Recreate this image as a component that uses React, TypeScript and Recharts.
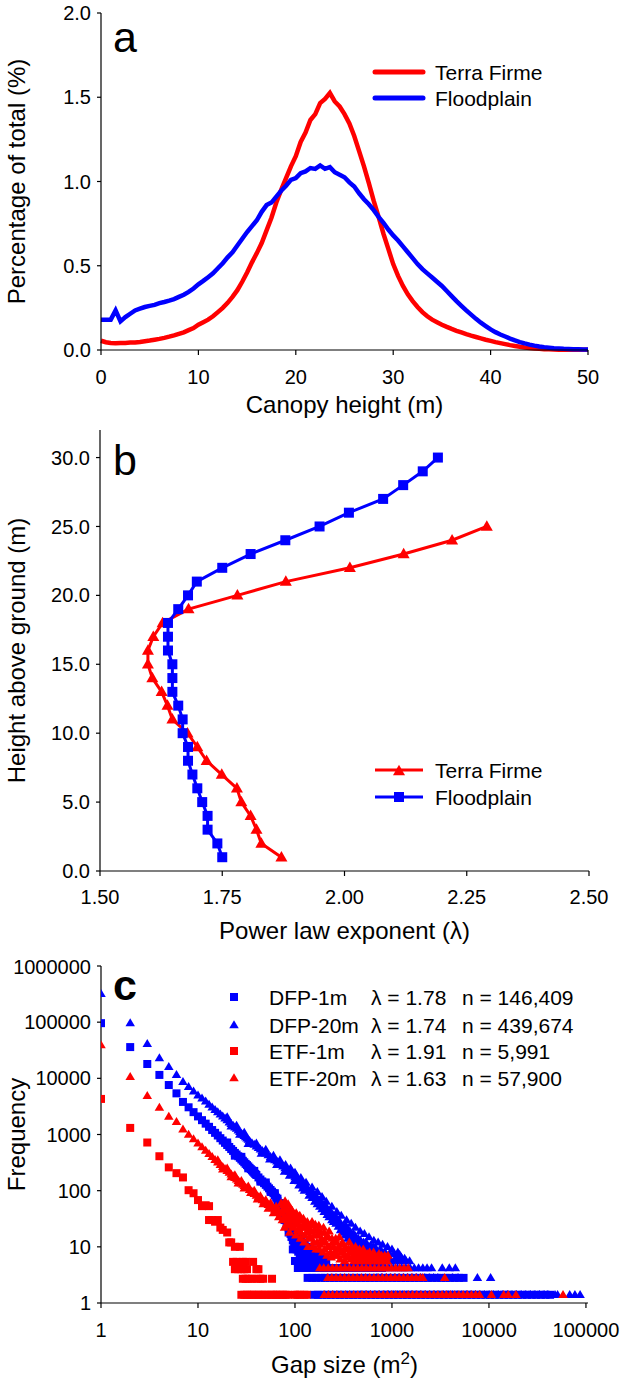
import React from 'react';
import { LineChart, Line, ScatterChart, Scatter, XAxis, YAxis, Label } from 'recharts';

const FONT = '"Liberation Sans", Arial, Helvetica, sans-serif';
const RED = '#FF0000';
const BLUE = '#0000FF';

// ---------------- Panel a data ----------------
const canopyHeight = [0, 0.5, 1, 1.5, 2, 2.5, 3, 3.5, 4, 4.5, 5, 5.5, 6, 6.5, 7, 7.5, 8, 8.5, 9, 9.5, 10, 10.5, 11, 11.5, 12, 12.5, 13, 13.5, 14, 14.5, 15, 15.5, 16, 16.5, 17, 17.5, 18, 18.5, 19, 19.5, 20, 20.5, 21, 21.5, 22, 22.5, 23, 23.5, 24, 24.5, 25, 25.5, 26, 26.5, 27, 27.5, 28, 28.5, 29, 29.5, 30, 30.5, 31, 31.5, 32, 32.5, 33, 33.5, 34, 34.5, 35, 35.5, 36, 36.5, 37, 37.5, 38, 38.5, 39, 39.5, 40, 40.5, 41, 41.5, 42, 42.5, 43, 43.5, 44, 44.5, 45, 45.5, 46, 46.5, 47, 47.5, 48, 48.5, 49, 49.5, 50];
const terraFirmePct = [0.055, 0.046, 0.041, 0.04, 0.041, 0.042, 0.044, 0.045, 0.048, 0.052, 0.056, 0.061, 0.066, 0.072, 0.079, 0.087, 0.096, 0.105, 0.118, 0.13, 0.15, 0.165, 0.18, 0.2, 0.225, 0.25, 0.28, 0.315, 0.355, 0.405, 0.46, 0.52, 0.575, 0.635, 0.71, 0.785, 0.875, 0.95, 1.02, 1.09, 1.15, 1.235, 1.29, 1.365, 1.4, 1.465, 1.49, 1.525, 1.475, 1.445, 1.4, 1.345, 1.27, 1.18, 1.09, 0.99, 0.885, 0.79, 0.69, 0.6, 0.51, 0.44, 0.38, 0.33, 0.29, 0.255, 0.225, 0.2, 0.18, 0.165, 0.15, 0.137, 0.125, 0.114, 0.104, 0.094, 0.085, 0.077, 0.069, 0.061, 0.054, 0.047, 0.041, 0.035, 0.029, 0.024, 0.019, 0.015, 0.012, 0.009, 0.007, 0.005, 0.004, 0.003, 0.002, 0.002, 0.002, 0.001, 0.001, 0.001, 0.001];
const floodplainPct = [0.18, 0.18, 0.18, 0.235, 0.17, 0.195, 0.215, 0.235, 0.245, 0.255, 0.262, 0.268, 0.278, 0.285, 0.293, 0.302, 0.315, 0.328, 0.345, 0.365, 0.39, 0.41, 0.432, 0.455, 0.485, 0.515, 0.55, 0.58, 0.62, 0.66, 0.7, 0.735, 0.77, 0.82, 0.86, 0.875, 0.91, 0.945, 0.975, 1.01, 1.02, 1.05, 1.06, 1.08, 1.075, 1.095, 1.075, 1.085, 1.055, 1.04, 1.025, 0.995, 0.97, 0.93, 0.895, 0.865, 0.83, 0.79, 0.755, 0.715, 0.68, 0.65, 0.615, 0.58, 0.545, 0.51, 0.48, 0.455, 0.43, 0.405, 0.38, 0.35, 0.32, 0.29, 0.262, 0.235, 0.21, 0.185, 0.162, 0.142, 0.122, 0.106, 0.092, 0.08, 0.068, 0.057, 0.047, 0.039, 0.032, 0.026, 0.021, 0.017, 0.014, 0.011, 0.009, 0.007, 0.006, 0.005, 0.004, 0.003, 0.003];
const aXTicks = [0, 10, 20, 30, 40, 50];
const aYTicks = [0, 0.5, 1, 1.5, 2];

// ---------------- Panel b data ----------------
const tfHeights = [1, 2, 3, 4, 5, 6, 7, 8, 9, 10, 11, 12, 13, 14, 15, 16, 17, 18, 19, 20, 21, 22, 23, 24, 25];
const tfLambda = [1.871, 1.83, 1.82, 1.808, 1.789, 1.78, 1.749, 1.718, 1.699, 1.679, 1.648, 1.638, 1.626, 1.607, 1.598, 1.598, 1.609, 1.628, 1.681, 1.781, 1.88, 2.011, 2.121, 2.22, 2.291];
const fpHeights = [1, 2, 3, 4, 5, 6, 7, 8, 9, 10, 11, 12, 13, 14, 15, 16, 17, 18, 19, 20, 21, 22, 23, 24, 25, 26, 27, 28, 29, 30];
const fpLambda = [1.75, 1.74, 1.72, 1.72, 1.709, 1.699, 1.689, 1.68, 1.68, 1.669, 1.669, 1.66, 1.648, 1.648, 1.648, 1.639, 1.639, 1.639, 1.66, 1.68, 1.698, 1.75, 1.808, 1.879, 1.949, 2.009, 2.079, 2.12, 2.16, 2.191];
const bXTicks = [1.5, 1.75, 2, 2.25, 2.5];
const bYTicks = [0, 5, 10, 15, 20, 25, 30];

// ---------------- Panel c data ----------------
const rowFreq = [1.4, 2.8, 4.2, 5.6];

const dfp1mBand = [[1, 96000], [2, 36000], [3, 18000], [4, 11500], [5, 7600], [6, 5400], [7, 3800], [8, 3050], [9, 2500], [10, 2100], [11, 1800], [12, 1560], [13, 1370], [14, 1200], [15, 1070], [16, 960], [17, 860], [18, 780], [19, 710], [20, 650], [21, 600], [22, 550], [23, 510], [24, 470], [25, 440], [26, 410], [27, 385], [28, 360], [29, 340], [30, 320], [31, 300], [32, 285], [33, 270], [34, 255], [35, 242], [36, 230], [37, 218], [38, 208], [39, 198], [40, 190], [42, 172], [44, 158], [46, 146], [48, 136], [50, 127], [52, 118], [54, 110], [56, 103], [58, 96], [60, 90], [62, 82], [64, 75], [66, 66], [68, 60], [70, 54], [72, 48], [74, 42], [76, 38], [78, 34], [80, 30], [82, 27], [84, 24], [86, 22], [88, 19], [90, 17], [92, 15], [95, 13], [98, 11], [101, 10], [104, 9], [108, 8.2], [112, 7.5], [116, 7], [121, 6.4],
  [20, 720], [24, 420], [28, 400], [33, 250], [38, 225], [44, 145], [50, 140], [56, 95], [62, 90], [66, 72], [70, 60], [74, 48], [78, 30], [82, 34], [86, 18], [88, 26], [92, 20], [95, 9], [98, 16], [102, 13], [105, 18], [110, 11], [115, 14], [120, 9], [126, 12], [132, 8], [138, 10], [145, 7.5], [152, 9], [160, 6.5], [170, 7.5], [185, 6.2]];
const dfp1mRow4 = [100, 113, 124, 139, 152, 171, 188, 210];
const dfp1mRow3 = [107, 118, 133, 146, 164, 180, 203, 223, 250, 276, 309, 341, 381, 422, 471, 520, 582, 643, 716, 790];
const dfp1mRow2 = [135, 151, 165, 186, 204, 229, 253, 283, 313, 350, 387, 432, 478, 534, 591, 659, 731, 815, 903, 1006, 1116, 1244, 1378, 1536, 1703, 1899, 2105, 2346, 2601, 2899, 3214, 3580, 3970, 4425, 4905, 5470];
const dfp1mRow1 = [157, 172, 190, 212, 233, 262, 290, 322, 360, 398, 440, 492, 545, 610, 676, 752, 840, 930, 1040, 1150, 1290, 1430, 1600, 1780, 1990, 2210, 2480, 2750, 3080, 3420, 3830, 4250, 4760, 5300, 5920, 6600, 7380, 8230, 9200, 10250, 11450, 12800, 14300, 15900, 17800, 19800, 22100, 24700, 27600, 30800, 34300, 38300, 42700];

const dfp20mBand = [[1, 320000], [2, 96000], [3, 41000], [4, 23000], [5, 16000], [6, 11500], [7, 8700], [8, 7100], [9, 5900], [10, 5000], [11, 4400], [12, 3900], [13, 3400], [14, 3050], [15, 2750], [16, 2500], [17, 2300], [18, 2100], [19, 1950], [20, 1800], [21, 1650], [22, 1550], [23, 1450], [24, 1350], [25, 1270], [26, 1190], [27, 1120], [28, 1055], [29, 995], [30, 945], [31, 900], [32, 855], [33, 810], [34, 770], [36, 705], [38, 660], [40, 615], [42, 578], [44, 545], [46, 515], [48, 487], [50, 462], [53, 430], [56, 400], [59, 375], [62, 352], [65, 332], [68, 314], [71, 298], [75, 272], [79, 252], [83, 234], [87, 218], [91, 204], [95, 190], [100, 175], [105, 160], [110, 148], [116, 135], [122, 124], [128, 114], [135, 104], [142, 95], [150, 87], [158, 80], [167, 74], [176, 67], [186, 60], [196, 54], [207, 48], [219, 43], [231, 39], [244, 35], [258, 31], [273, 28], [289, 25], [306, 22.5], [324, 20.5], [343, 19], [363, 17.5], [385, 16], [408, 14.5], [432, 13.5], [458, 12.5], [485, 11.5], [514, 10.8], [545, 10], [578, 9.5], [613, 9], [650, 8.5], [690, 8], [732, 7.5], [777, 7], [825, 6.8], [875, 6.4], [930, 6], [990, 5.6],
  [20, 2050], [25, 1450], [30, 1080], [40, 700], [50, 540], [60, 420], [70, 350], [80, 290], [90, 250], [100, 210], [115, 170], [130, 140], [150, 115], [170, 95], [190, 78], [210, 64], [240, 52], [270, 42], [300, 36], [340, 30], [380, 26], [420, 22], [470, 19], [520, 17], [580, 15], [650, 13], [720, 12], [800, 11], [900, 10], [1000, 9], [1050, 7.5], [1150, 8], [1250, 6.5],
  [22, 1400], [27, 1000], [33, 680], [45, 460], [55, 360], [65, 290], [78, 220], [88, 185], [98, 150], [110, 125], [125, 100], [140, 82], [160, 64], [180, 52], [200, 42], [225, 34], [250, 28], [280, 23], [310, 18], [350, 14], [390, 12], [440, 10], [500, 8.5], [560, 7.5], [620, 6.5], [700, 6], [780, 5.8],
  [105, 175], [118, 140], [132, 118], [145, 100], [155, 90], [165, 80], [180, 68], [195, 58], [205, 55], [215, 48], [230, 44], [245, 38], [260, 34], [275, 31], [290, 28], [320, 23], [335, 24], [355, 20], [370, 19], [400, 17], [415, 16], [450, 14], [475, 13], [510, 12], [540, 12], [600, 10.5], [640, 10], [680, 9.5], [760, 9], [850, 8], [950, 7.5], [1100, 6.5], [1200, 7.2], [1350, 6.2],
  [120, 110], [150, 75], [170, 58], [190, 47], [215, 37], [240, 30], [265, 26], [295, 20], [330, 16], [370, 13], [410, 11], [460, 9], [520, 8], [590, 7], [660, 6.6], [740, 6.2], [820, 6]];
const dfp20mRow4 = [800, 880, 960, 1060, 1160, 1280, 1400, 1520];
const dfp20mRow3 = [560, 620, 690, 760, 840, 930, 1030, 1140, 1260, 1390, 1540, 1700, 1880, 2080, 2300, 2560, 3300, 3900, 4500];
const dfp20mRow2 = [700, 780, 870, 960, 1070, 1180, 1310, 1450, 1610, 1780, 1970, 2180, 2420, 2680, 2970, 4200, 4800, 7600, 10400];
const dfp20mRow1 = [480, 540, 600, 670, 745, 830, 925, 1030, 1150, 1280, 1430, 1590, 1770, 1980, 2200, 2460, 2740, 3050, 3400, 3790, 4230, 4710, 5250, 5850, 6520, 7270, 8100, 9030, 10050, 11200, 12500, 13900, 15500, 17300, 19300, 21500, 24000, 26700, 29800, 33200, 37000, 40500, 48000, 51000, 68000, 77000, 87000];

const etf1mPts = [[1, 4300], [2, 1310], [3, 720], [4, 410], [5, 260], [6, 205], [7, 172], [8, 102], [9, 90], [10, 68], [11, 53], [12, 55], [13, 53], [13, 30], [14, 30], [15, 28], [16, 30], [17, 22], [18, 20], [20, 18], [21, 12], [22, 12], [24, 10], [27, 10], [23, 5.4], [25, 5.4], [29, 5.4], [31, 5.4], [37, 5.4], [24, 4], [26, 4], [28, 4], [30, 4], [32, 4], [40, 4], [42, 4], [29, 2.7], [31, 2.7], [33, 2.7], [36, 2.7], [40, 2.7], [44, 2.7], [47, 2.7], [58, 2.7]];
const etf1mRow1 = [28, 30, 32, 34, 36, 38, 41, 43, 46, 49, 52, 56, 59, 63, 66, 70, 75, 80, 84, 100, 106, 112, 125, 132];

const etf20mBand = [[1, 39000], [2, 10600], [3, 4870], [4, 3020], [5, 2080], [6, 1690], [7, 1240], [8, 1000], [9, 830], [10, 700], [11, 600], [12, 520], [13, 455], [14, 400], [15, 355], [16, 320], [17, 290], [18, 265], [19, 245], [20, 225], [21, 210], [22, 195], [23, 182], [24, 170], [25, 160], [26, 150], [27, 142], [28, 135], [29, 128], [30, 122], [32, 112], [34, 104], [36, 96], [38, 88], [40, 82], [42, 77], [44, 72], [46, 68], [48, 64], [50, 60], [53, 56], [56, 52], [59, 49], [62, 46], [65, 44], [68, 41], [71, 39],
  [16, 350], [18, 240], [20, 250], [22, 175], [24, 190], [26, 135], [28, 150], [30, 110], [33, 120], [35, 92], [38, 100], [41, 70], [44, 80], [47, 58], [50, 68], [53, 48], [56, 60], [60, 40], [64, 52], [68, 34],
  [72, 60], [74, 30], [76, 45], [78, 22], [80, 52], [82, 35], [84, 26], [86, 40], [88, 18], [90, 48], [93, 30], [96, 22], [99, 38], [102, 16], [105, 28], [108, 34], [111, 20], [114, 14], [117, 30], [120, 24], [124, 12], [128, 26], [132, 18], [136, 10], [140, 22], [145, 15], [150, 28], [155, 12], [160, 20], [165, 9], [170, 16], [176, 24], [182, 11], [188, 14], [194, 8], [200, 18], [207, 12], [214, 7], [221, 15], [229, 10], [237, 6.5], [245, 12], [254, 8], [263, 14], [272, 7], [282, 10], [292, 6], [303, 11], [314, 8], [326, 5.6], [338, 9], [350, 7], [363, 12], [377, 6], [391, 8.5], [406, 5.6], [421, 10], [437, 7], [453, 5.6], [470, 8], [488, 6], [506, 9], [525, 5.6], [545, 7], [566, 5.6], [588, 8], [610, 6], [634, 5.6], [658, 7], [683, 5.6], [709, 6.2], [736, 7.5], [765, 5.6], [795, 6.5], [826, 5.6], [858, 6], [892, 5.6],
  [73, 42], [75, 55], [77, 33], [79, 65], [81, 25], [83, 45], [85, 58], [87, 30], [89, 36], [91, 24], [94, 44], [97, 32], [100, 26], [103, 40], [106, 20], [109, 25], [112, 36], [115, 18], [118, 22], [122, 32], [126, 16], [130, 22], [134, 28], [138, 14], [143, 19], [148, 24], [152, 10], [158, 16], [162, 25], [168, 12], [173, 20], [179, 9], [185, 18], [191, 12], [197, 22], [203, 9], [210, 15], [218, 10], [225, 19], [233, 8], [241, 14], [250, 10], [258, 7], [268, 12], [277, 9], [287, 15], [297, 8], [308, 12], [320, 7], [332, 10], [344, 6.5], [356, 9], [370, 8], [384, 10], [398, 7], [413, 6.5], [429, 8.5], [445, 6], [462, 9], [480, 7], [498, 6.5], [516, 8], [535, 6], [556, 7.5], [577, 6.5], [600, 7], [622, 6], [646, 8], [670, 6.5], [696, 5.8], [722, 7], [750, 6], [780, 7], [810, 6], [842, 7], [875, 6.5], [910, 7]];
const etf20mRow3 = [180, 198, 220, 243, 268, 297, 328, 363, 401, 443, 490, 541, 598, 661, 731, 808, 893, 987, 1090, 1205, 1330, 1470];
const etf20mRow2 = [218, 240, 265, 293, 324, 358, 396, 437, 483, 534, 590, 652, 721, 797, 880, 973, 1075, 1188, 1313, 1451, 1604, 1772, 1958, 2080, 3500];
const etf20mRow1 = [200, 221, 244, 270, 298, 330, 364, 403, 445, 492, 543, 601, 664, 733, 811, 896, 990, 1094, 1209, 1336, 1476, 1632, 1803, 1993, 2202, 2434, 2690, 2972, 3285, 3630, 4011, 4433, 4899, 5414, 5983, 6612, 7300, 8000, 10600, 14200, 15800, 19000, 58000];

const cXTicks = [1, 10, 100, 1000, 10000, 100000];
const cYTicks = [1, 10, 100, 1000, 10000, 100000, 1000000];

const cLegend = [
  { name: 'DFP-1m', lambda: '1.78', n: '146,409', color: BLUE, marker: 'square' },
  { name: 'DFP-20m', lambda: '1.74', n: '439,674', color: BLUE, marker: 'triangle' },
  { name: 'ETF-1m', lambda: '1.91', n: '5,991', color: RED, marker: 'square' },
  { name: 'ETF-20m', lambda: '1.63', n: '57,900', color: RED, marker: 'triangle' },
];

// ---------------- helpers ----------------
const toPts = (arr: number[][]) => arr.map(([g, f]) => ({ g, f }));
const rowPts = (xs: number[], f: number) => xs.map((g) => ({ g, f }));

const panelAData = canopyHeight.map((h, i) => ({ h, tf: terraFirmePct[i], fp: floodplainPct[i] }));
const tfData = tfHeights.map((h, i) => ({ h, lam: tfLambda[i] }));
const fpData = fpHeights.map((h, i) => ({ h, lam: fpLambda[i] }));

const dfp1mData = [...toPts(dfp1mBand), ...rowPts(dfp1mRow4, rowFreq[3]), ...rowPts(dfp1mRow3, rowFreq[2]), ...rowPts(dfp1mRow2, rowFreq[1]), ...rowPts(dfp1mRow1, rowFreq[0])];
const dfp20mData = [...toPts(dfp20mBand), ...rowPts(dfp20mRow4, rowFreq[3]), ...rowPts(dfp20mRow3, rowFreq[2]), ...rowPts(dfp20mRow2, rowFreq[1]), ...rowPts(dfp20mRow1, rowFreq[0])];
const etf1mData = [...toPts(etf1mPts), ...rowPts(etf1mRow1, rowFreq[0])];
const etf20mData = [...toPts(etf20mBand), ...rowPts(etf20mRow3, rowFreq[2]), ...rowPts(etf20mRow2, rowFreq[1]), ...rowPts(etf20mRow1, rowFreq[0])];

const tickStyle = { fill: '#000', fontSize: 20, fontFamily: FONT };
const titleStyle = { fill: '#000', fontSize: 24, fontFamily: FONT };
const yTitleStyle = { fill: '#000', fontSize: 24, fontFamily: FONT, textAnchor: 'middle' as const };

const Square = ({ cx, cy, s, fill }: any) => <rect x={cx - s / 2} y={cy - s / 2} width={s} height={s} fill={fill} />;
const Tri = ({ cx, cy, w, h, fill }: any) => (
  <polygon points={`${cx},${cy - h * 0.6} ${cx + w / 2},${cy + h * 0.4} ${cx - w / 2},${cy + h * 0.4}`} fill={fill} />
);

const PanelLabel = ({ x, y, text, bold }: any) => (
  <text x={x} y={y} fontSize={43} fontFamily={FONT} fontWeight={bold ? 'bold' : 'normal'} fill="#000">{text}</text>
);

// ---------------- Panel A ----------------
function LegendA() {
  const rows = [{ label: 'Terra Firme', color: RED, y: 72 }, { label: 'Floodplain', color: BLUE, y: 98 }];
  return (
    <g>
      {rows.map((r) => (
        <g key={r.label}>
          <line x1={375} x2={423} y1={r.y} y2={r.y} stroke={r.color} strokeWidth={5} strokeLinecap="round" />
          <text x={435} y={r.y + 7.5} fontSize={21} fontFamily={FONT} fill="#000">{r.label}</text>
        </g>
      ))}
      <PanelLabel x={113} y={52} text="a" />
    </g>
  );
}

function PanelA() {
  return (
    <LineChart width={623} height={425} data={panelAData} margin={{ top: 13, right: 35, bottom: 0, left: 0 }}>
      <XAxis dataKey="h" type="number" domain={[0, 50]} ticks={aXTicks} height={75} tickSize={5} tickMargin={15} tick={tickStyle} stroke="#000" strokeWidth={1.2}>
        <Label value="Canopy height (m)" position="insideBottom" offset={12} style={titleStyle} />
      </XAxis>
      <XAxis xAxisId="top" orientation="top" type="number" domain={[0, 50]} tick={false} tickLine={false} height={0} stroke="#000" strokeWidth={1.2} />
      <YAxis type="number" domain={[0, 2]} ticks={aYTicks} tickFormatter={(v: number) => v.toFixed(1)} width={101} tickSize={4} tickMargin={6} tick={tickStyle} stroke="#000" strokeWidth={1.2}>
        <Label value="Percentage of total (%)" angle={-90} position="insideLeft" offset={16} style={yTitleStyle} />
      </YAxis>
      <YAxis yAxisId="right" orientation="right" mirror type="number" domain={[0, 2]} ticks={aYTicks} tick={false} tickSize={5} width={0} stroke="#000" strokeWidth={1.2} />
      <Line dataKey="tf" stroke={RED} strokeWidth={4.5} dot={false} isAnimationActive={false} />
      <Line dataKey="fp" stroke={BLUE} strokeWidth={4.5} dot={false} isAnimationActive={false} />
      <LegendA />
    </LineChart>
  );
}

// ---------------- Panel B ----------------
function LegendB() {
  return (
    <g>
      <line x1={375} x2={423} y1={345} y2={345} stroke={RED} strokeWidth={3} />
      <Tri cx={399} cy={346} w={12} h={10.5} fill={RED} />
      <text x={435} y={352.5} fontSize={21} fontFamily={FONT} fill="#000">Terra Firme</text>
      <line x1={375} x2={423} y1={372} y2={372} stroke={BLUE} strokeWidth={3} />
      <Square cx={399} cy={372} s={10} fill={BLUE} />
      <text x={435} y={379.5} fontSize={21} fontFamily={FONT} fill="#000">Floodplain</text>
      <PanelLabel x={113} y={50} text="b" />
    </g>
  );
}

function PanelB() {
  return (
    <ScatterChart width={623} height={530} margin={{ top: 5, right: 34, bottom: 0, left: 0 }}>
      <XAxis dataKey="lam" type="number" domain={[1.5, 2.5]} ticks={bXTicks} tickFormatter={(v: number) => v.toFixed(2)} height={84} tickSize={5} tickMargin={14} tick={tickStyle} stroke="#000" strokeWidth={1.2}>
        <Label value="Power law exponent (λ)" position="insideBottom" offset={16} style={titleStyle} />
      </XAxis>
      <XAxis xAxisId="top" orientation="top" type="number" domain={[1.5, 2.5]} tick={false} tickLine={false} height={0} stroke="#000" strokeWidth={1.2} />
      <YAxis dataKey="h" type="number" domain={[0, 32]} ticks={bYTicks} tickFormatter={(v: number) => v.toFixed(1)} width={100} tickSize={4} tickMargin={6} tick={tickStyle} stroke="#000" strokeWidth={1.2}>
        <Label value="Height above ground (m)" angle={-90} position="insideLeft" offset={16} style={yTitleStyle} />
      </YAxis>
      <YAxis yAxisId="right" orientation="right" mirror type="number" domain={[0, 32]} ticks={bYTicks} tick={false} tickSize={5} width={0} stroke="#000" strokeWidth={1.2} />
      <Scatter data={tfData} line={{ stroke: RED, strokeWidth: 3 }} lineType="joint" isAnimationActive={false}
        shape={(p: any) => <Tri cx={p.cx} cy={p.cy} w={12} h={10.5} fill={RED} />} />
      <Scatter data={fpData} line={{ stroke: BLUE, strokeWidth: 3 }} lineType="joint" isAnimationActive={false}
        shape={(p: any) => <Square cx={p.cx} cy={p.cy} s={10} fill={BLUE} />} />
      <LegendB />
    </ScatterChart>
  );
}

// ---------------- Panel C ----------------
function LegendC() {
  const ys = [42, 70, 96, 123];
  return (
    <g>
      {cLegend.map((r, i) => (
        <g key={r.name}>
          {r.marker === 'square'
            ? <Square cx={234} cy={ys[i]} s={8} fill={r.color} />
            : <Tri cx={234} cy={ys[i]} w={9.5} h={8} fill={r.color} />}
          <text x={269} y={ys[i] + 7.5} fontSize={21} fontFamily={FONT} fill="#000">{r.name}</text>
          <text x={371} y={ys[i] + 7.5} fontSize={21} fontFamily={FONT} fill="#000">{`λ = ${r.lambda}`}</text>
          <text x={462} y={ys[i] + 7.5} fontSize={21} fontFamily={FONT} fill="#000">{`n = ${r.n}`}</text>
        </g>
      ))}
      <PanelLabel x={113} y={45} text="c" bold />
    </g>
  );
}

const GapTitle = (props: any) => {
  const vb = props.viewBox || {};
  const cx = vb.x + vb.width / 2;
  const y = vb.y + vb.height - 9;
  return (
    <text x={cx} y={y} textAnchor="middle" fontSize={24} fontFamily={FONT} fill="#000">
      Gap size (m<tspan dy={-9} fontSize={17}>2</tspan><tspan dy={9}>)</tspan>
    </text>
  );
};

function PanelC() {
  return (
    <ScatterChart width={623} height={427} margin={{ top: 11, right: 35, bottom: 0, left: 0 }}>
      <XAxis dataKey="g" type="number" scale="log" domain={[1, 105000]} ticks={cXTicks} allowDataOverflow height={79} tickSize={5} tickMargin={15} tick={tickStyle} stroke="#000" strokeWidth={1.2}>
        <Label content={<GapTitle />} />
      </XAxis>
      <XAxis xAxisId="top" orientation="top" type="number" scale="log" domain={[1, 105000]} tick={false} tickLine={false} height={0} stroke="#999" strokeWidth={1.2} />
      <YAxis dataKey="f" type="number" scale="log" domain={[1, 1000000]} ticks={cYTicks} allowDataOverflow width={101} tickSize={4} tickMargin={6} tick={tickStyle} stroke="#000" strokeWidth={1.2}>
        <Label value="Frequency" angle={-90} position="insideLeft" offset={16} style={yTitleStyle} />
      </YAxis>
      <YAxis yAxisId="right" orientation="right" mirror type="number" scale="log" domain={[1, 1000000]} ticks={cYTicks} tick={false} tickSize={5} width={0} stroke="#000" strokeWidth={1.2} />
      <Scatter data={dfp1mData} isAnimationActive={false} shape={(p: any) => <Square cx={p.cx} cy={p.cy} s={8} fill={BLUE} />} />
      <Scatter data={dfp20mData} isAnimationActive={false} shape={(p: any) => <Tri cx={p.cx} cy={p.cy} w={9.5} h={8} fill={BLUE} />} />
      <Scatter data={etf1mData} isAnimationActive={false} shape={(p: any) => <Square cx={p.cx} cy={p.cy} s={8} fill={RED} />} />
      <Scatter data={etf20mData} isAnimationActive={false} shape={(p: any) => <Tri cx={p.cx} cy={p.cy} w={9.5} h={8} fill={RED} />} />
      <LegendC />
    </ScatterChart>
  );
}

export default function App() {
  return (
    <div style={{ position: 'absolute', left: 0, top: 0, width: 623, height: 1382, background: '#fff', fontFamily: FONT }}>
      <div style={{ position: 'absolute', left: 0, top: 0 }}><PanelA /></div>
      <div style={{ position: 'absolute', left: 0, top: 425 }}><PanelB /></div>
      <div style={{ position: 'absolute', left: 0, top: 955 }}><PanelC /></div>
    </div>
  );
}
